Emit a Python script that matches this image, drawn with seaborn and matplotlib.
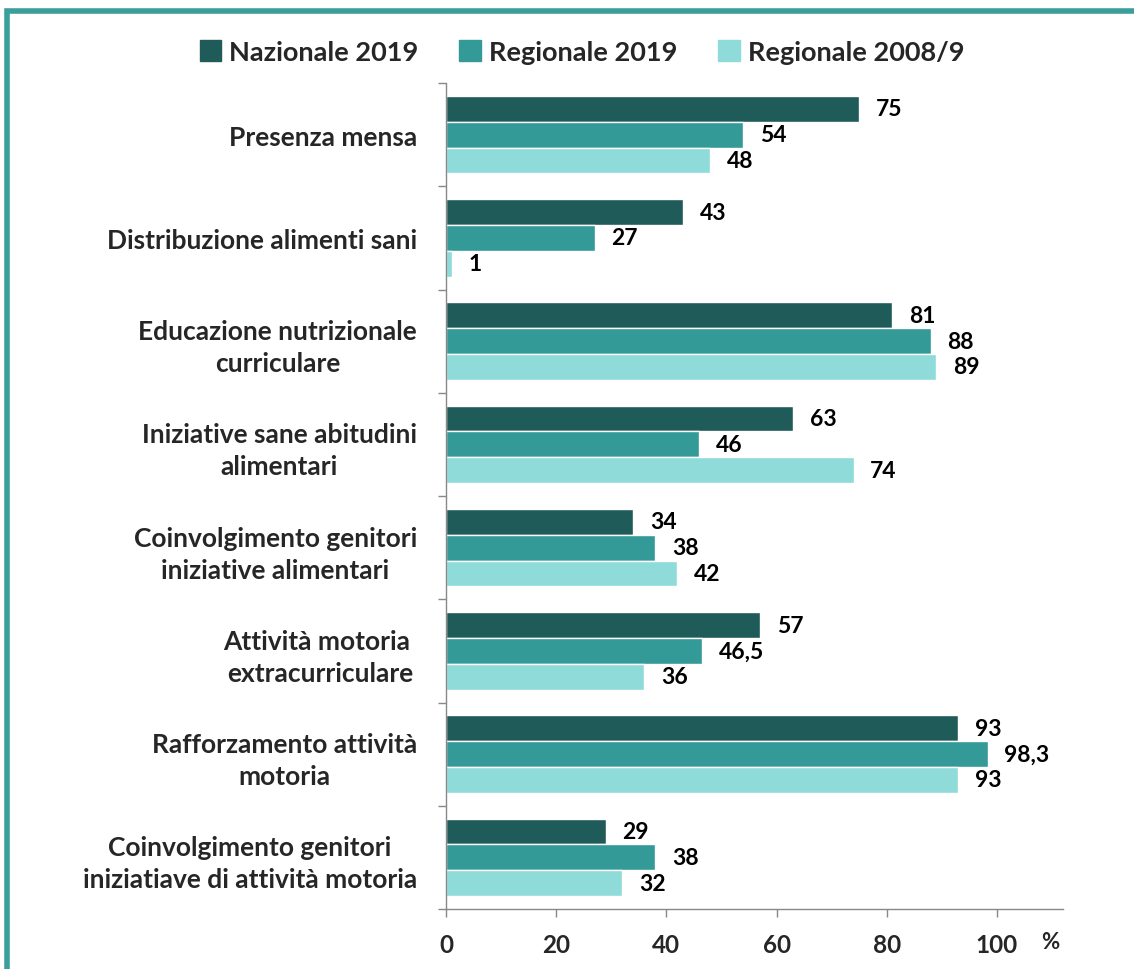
import matplotlib
matplotlib.use("Agg")
import matplotlib.pyplot as plt
from matplotlib.patches import Rectangle
import seaborn as sns
import pandas as pd

categories = [
    "Presenza mensa",
    "Distribuzione alimenti sani",
    "Educazione nutrizionale\ncurriculare",
    "Iniziative sane abitudini\nalimentari",
    "Coinvolgimento genitori\niniziative alimentari",
    "Attività motoria \nextracurriculare",
    "Rafforzamento attività\nmotoria",
    "Coinvolgimento genitori\niniziatiave di attività motoria",
]
series = ["Nazionale 2019", "Regionale 2019", "Regionale 2008/9"]
nazionale_2019 = [75, 43, 81, 63, 34, 57, 93, 29]
regionale_2019 = [54, 27, 88, 46, 38, 46.5, 98.3, 38]
regionale_2008 = [48, 1, 89, 74, 42, 36, 93, 32]
x_ticks = [0, 20, 40, 60, 80, 100]
colors = ["#1F5B59", "#339A98", "#8FDBD9"]

rows = []
for s, vals in zip(series, [nazionale_2019, regionale_2019, regionale_2008]):
    for c, v in zip(categories, vals):
        rows.append({"categoria": c, "serie": s, "valore": v})
df = pd.DataFrame(rows)

sns.set_theme(style="white")
plt.rcParams["font.family"] = ["Lato", "DejaVu Sans"]
plt.rcParams["font.weight"] = "bold"

fig = plt.figure(figsize=(11.34, 9.7), dpi=100)
ax = fig.add_axes([446 / 1134, 1 - 910 / 970, (1063 - 446) / 1134, (910 - 84) / 970])

sns.barplot(data=df, y="categoria", x="valore", hue="serie", orient="h",
            palette=colors, hue_order=series, order=categories, saturation=1,
            width=0.75, edgecolor="white", linewidth=1, ax=ax, legend=False)

def fmt(v):
    return (f"{v:.1f}".replace(".", ",")) if v != int(v) else f"{int(v)}"

for cont, vals in zip(ax.containers, [nazionale_2019, regionale_2019, regionale_2008]):
    ax.bar_label(cont, labels=[fmt(v) for v in vals], padding=12,
                 fontsize=16.5, fontweight="bold", color="black")

ax.set_xlim(0, 112)
ax.set_ylim(len(categories) - 0.5, -0.5)
ax.set_xticks(x_ticks)
ax.set_xticklabels([str(t) for t in x_ticks], fontsize=17.5, fontweight="bold")
ax.set_yticks(range(len(categories)))
ax.set_yticklabels(categories, fontsize=19, fontweight="bold", multialignment="center",
                   linespacing=1.4)
ax.tick_params(axis="y", length=0, pad=21)
ax.set_yticks([i - 0.5 for i in range(len(categories) + 1)], minor=True)
ax.tick_params(axis="y", which="minor", length=6, color="#888888", width=1, direction="out", left=True)
ax.tick_params(axis="x", length=6, color="#888888", width=1, direction="out", bottom=True, pad=11)
ax.set_xlabel("")
ax.set_ylabel("")
for sp in ["top", "right"]:
    ax.spines[sp].set_visible(False)
for sp in ["left", "bottom"]:
    ax.spines[sp].set_color("#888888")
    ax.spines[sp].set_linewidth(1)
ax.text(1050 / 1134, 1 - 943 / 970, "%", transform=fig.transFigure, fontsize=16,
        fontweight="bold", ha="center", va="center")

handles = [Rectangle((0, 0), 1, 1, color=c) for c in colors]
fig.legend(handles, series, loc="center", bbox_to_anchor=(582 / 1134, 1 - 53 / 970),
           ncol=3, frameon=False, handlelength=0.8, handleheight=0.8,
           handletextpad=0.3, columnspacing=1.5,
           prop={"family": ["Lato"], "weight": "bold", "size": 19.5})

fig.patches.append(Rectangle((7 / 1134, -0.05), 1.2, 1 - 12 / 970 + 0.05,
                             transform=fig.transFigure, fill=False,
                             edgecolor="#3A9E9A", linewidth=4))

fig.savefig("out.png", dpi=100)
